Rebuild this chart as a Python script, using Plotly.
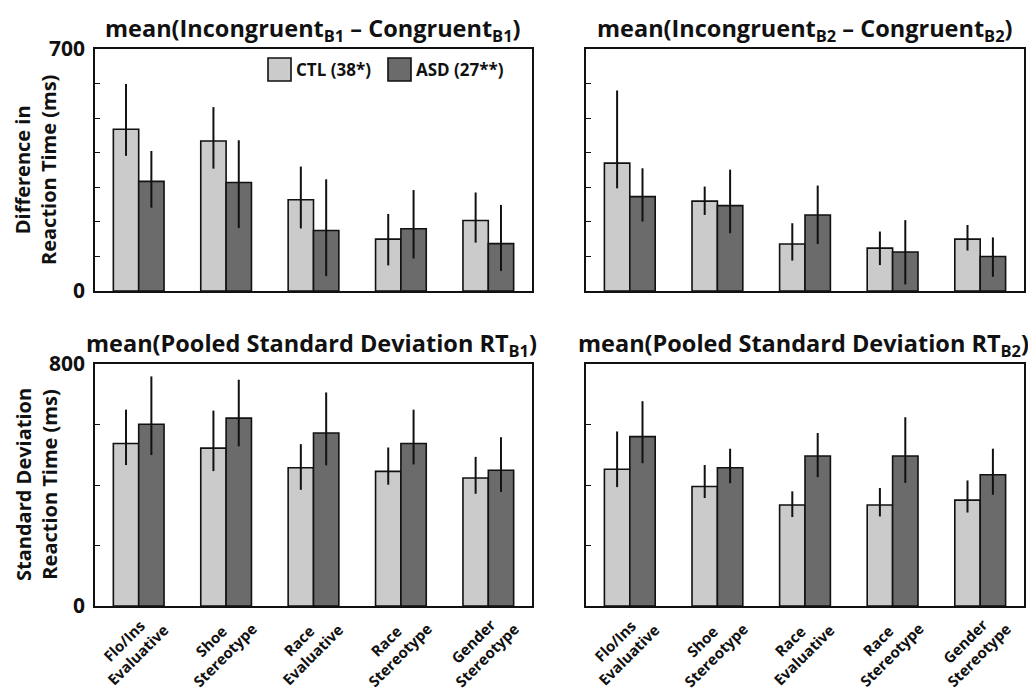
import plotly.graph_objects as go

# page body has an 8px margin; size the figure so the page is 1036x694
OFF = 8
W, H = 1036 - 2 * OFF, 694 - OFF

categories = ["Flo/Ins<br>Evaluative", "Shoe<br>Stereotype", "Race<br>Evaluative",
              "Race<br>Stereotype", "Gender<br>Stereotype"]
groups = ["CTL (38*)", "ASD (27**)"]

# Top-left: mean(Incongruent_B1 - Congruent_B1)
b1_diff_ctl = [468, 434, 264, 150, 204]
b1_diff_ctl_hi = [599, 532, 360, 223, 285]
b1_diff_ctl_lo = [391, 354, 181, 74, 140]
b1_diff_asd = [317, 314, 175, 180, 137]
b1_diff_asd_hi = [405, 436, 323, 292, 249]
b1_diff_asd_lo = [241, 182, 43, 94, 58]

# Top-right: mean(Incongruent_B2 - Congruent_B2)
b2_diff_ctl = [370, 260, 136, 124, 150]
b2_diff_ctl_hi = [580, 302, 196, 172, 191]
b2_diff_ctl_lo = [297, 220, 88, 75, 117]
b2_diff_asd = [273, 247, 220, 113, 100]
b2_diff_asd_hi = [355, 351, 305, 205, 155]
b2_diff_asd_lo = [201, 167, 136, 19, 41]

# Bottom-left: mean(Pooled SD RT_B1)
b1_sd_ctl = [537, 522, 457, 445, 423]
b1_sd_ctl_hi = [649, 646, 535, 524, 493]
b1_sd_ctl_lo = [466, 446, 384, 401, 371]
b1_sd_asd = [601, 621, 572, 537, 449]
b1_sd_asd_hi = [759, 748, 706, 649, 558]
b1_sd_asd_lo = [499, 528, 465, 468, 377]

# Bottom-right: mean(Pooled SD RT_B2)
b2_sd_ctl = [452, 395, 334, 334, 350]
b2_sd_ctl_hi = [577, 466, 379, 390, 415]
b2_sd_ctl_lo = [393, 357, 294, 296, 309]
b2_sd_asd = [560, 457, 496, 496, 434]
b2_sd_asd_hi = [677, 520, 572, 624, 520]
b2_sd_asd_lo = [472, 406, 426, 407, 368]

top_max, top_step = 700, 100
bot_max, bot_step = 800, 200

titles = ["mean(Incongruent<sub>B1</sub> – Congruent<sub>B1</sub>)",
          "mean(Incongruent<sub>B2</sub> – Congruent<sub>B2</sub>)",
          "mean(Pooled Standard Deviation RT<sub>B1</sub>)",
          "mean(Pooled Standard Deviation RT<sub>B2</sub>)"]
ytitles = ["Difference in<br>Reaction Time (ms)", "Standard Deviation<br>Reaction Time (ms)"]

COL_CTL = "#cbcbcb"
COL_ASD = "#6b6b6b"
FONT = "Open Sans"

panels = [
    (b1_diff_ctl, b1_diff_ctl_hi, b1_diff_ctl_lo, b1_diff_asd, b1_diff_asd_hi, b1_diff_asd_lo),
    (b2_diff_ctl, b2_diff_ctl_hi, b2_diff_ctl_lo, b2_diff_asd, b2_diff_asd_hi, b2_diff_asd_lo),
    (b1_sd_ctl, b1_sd_ctl_hi, b1_sd_ctl_lo, b1_sd_asd, b1_sd_asd_hi, b1_sd_asd_lo),
    (b2_sd_ctl, b2_sd_ctl_hi, b2_sd_ctl_lo, b2_sd_asd, b2_sd_asd_hi, b2_sd_asd_lo),
]

fig = go.Figure()

def px_x(p):
    return (p - OFF) / W

def px_y(p):
    return 1 - (p - OFF) / H

xdom = [[px_x(95), px_x(532)], [px_x(586), px_x(1024)]]
ydom = [[px_y(291), px_y(49)], [px_y(606), px_y(364)]]

for i, (c, chi, clo, a, ahi, alo) in enumerate(panels):
    xa = "x" if i == 0 else f"x{i+1}"
    ya = "y" if i == 0 else f"y{i+1}"
    for vals, hi, lo, col, name in [(c, chi, clo, COL_CTL, groups[0]), (a, ahi, alo, COL_ASD, groups[1])]:
        fig.add_trace(go.Bar(
            x=categories, y=vals, name=name, xaxis=xa, yaxis=ya,
            marker=dict(color=col, line=dict(color="#111111", width=1.6)),
            error_y=dict(type="data", symmetric=False,
                         array=[h - v for h, v in zip(hi, vals)],
                         arrayminus=[v - l for v, l in zip(vals, lo)],
                         color="#111111", thickness=2, width=0),
            showlegend=False,
        ))

layout = dict(
    width=W, height=H, margin=dict(l=0, r=0, t=0, b=0, autoexpand=False),
    paper_bgcolor="white", plot_bgcolor="white",
    barmode="group", bargap=0.42, bargroupgap=0,
    font=dict(family=FONT, color="#111111"),
)
for i in range(4):
    row, col = divmod(i, 2)
    xk = "xaxis" if i == 0 else f"xaxis{i+1}"
    yk = "yaxis" if i == 0 else f"yaxis{i+1}"
    ya_anchor = "y" if i == 0 else f"y{i+1}"
    xa_anchor = "x" if i == 0 else f"x{i+1}"
    layout[xk] = dict(domain=xdom[col], anchor=ya_anchor, range=[-0.5, 4.5], automargin=False,
                      showline=True, linecolor="#111111", linewidth=1.6, mirror=True,
                      ticks="", showticklabels=False,
                      showgrid=False, zeroline=False, fixedrange=True)
    ymax, ystep = (top_max, top_step) if row == 0 else (bot_max, bot_step)
    layout[yk] = dict(domain=ydom[row], anchor=xa_anchor, range=[0, ymax], automargin=False,
                      showline=True, linecolor="#111111", linewidth=1.6, mirror=True,
                      ticks="inside", ticklen=5, tickwidth=1.4, tickcolor="#111111",
                      tickvals=[0, ymax], showticklabels=(col == 0),
                      minor=dict(ticks="inside", tick0=0, dtick=ystep, ticklen=5,
                                 tickwidth=1.4, tickcolor="#111111", showgrid=False),
                      ticklabelstandoff=4,
                      tickfont=dict(family=FONT, size=21, color="#111111", weight="bold"),
                      showgrid=False, zeroline=False, fixedrange=True)
fig.update_layout(**layout)

annotations = []
title_pos = [(313, 49), (805, 49), (311, 364), (803, 364)]
for t, (cx, by) in zip(titles, title_pos):
    annotations.append(dict(text=f"<b>{t}</b>", x=px_x(cx), y=px_y(by), xref="paper", yref="paper",
                            xanchor="center", yanchor="bottom", showarrow=False,
                            font=dict(family=FONT, size=23.5, color="#111111")))
for t, cy in zip(ytitles, [170, 485]):
    annotations.append(dict(text=f"<b>{t}</b>", x=px_x(36), y=px_y(cy), xref="paper", yref="paper",
                            xanchor="center", yanchor="middle", showarrow=False, textangle=-90,
                            font=dict(family=FONT, size=20, color="#111111")))

# rotated two-line category labels under the bottom panels
for xref in ["x3", "x4"]:
    for cat in categories:
        annotations.append(dict(text=f"<b>{cat}</b>", x=cat, y=px_y(648), xref=xref, yref="paper",
                                xanchor="center", yanchor="middle", xshift=-8, showarrow=False,
                                textangle=-45, align="center", borderpad=0,
                                font=dict(family=FONT, size=15, color="#111111")))

# custom legend in top-left panel
shapes = []
for (x0, x1), col, name in [((268, 291), COL_CTL, groups[0]), ((388, 411), COL_ASD, groups[1])]:
    shapes.append(dict(type="rect", xref="paper", yref="paper",
                       x0=px_x(x0), x1=px_x(x1), y0=px_y(81), y1=px_y(58),
                       fillcolor=col, line=dict(color="#111111", width=1.6)))
    annotations.append(dict(text=f"<b>{name}</b>", x=px_x(x1 + 3), y=px_y(69.5), xref="paper", yref="paper",
                            xanchor="left", yanchor="middle", showarrow=False,
                            font=dict(family=FONT, size=17, color="#111111")))
fig.update_layout(annotations=annotations, shapes=shapes)

fig.write_html("out.html")
